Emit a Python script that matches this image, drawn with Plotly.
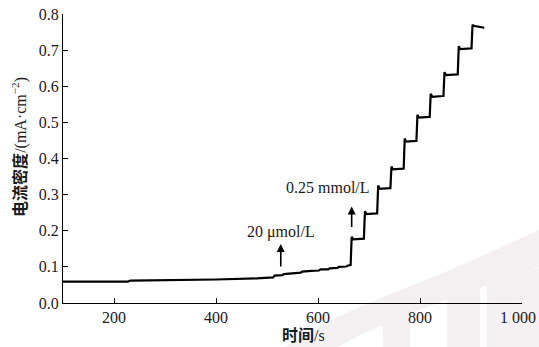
import plotly.graph_objects as go

# time (s) and current density (mA/cm^2)
time_s = [100, 160, 227, 232, 300, 400, 480, 512,
          515, 530, 533, 548, 551, 566, 569, 584, 587, 602, 605, 620, 623, 638, 641, 656, 659, 664,
          666, 669, 689,
          690, 692, 695, 715,
          716, 718, 721, 741,
          742, 744, 747, 767,
          768, 770, 773, 792,
          793, 795, 798, 818,
          819, 821, 824, 845,
          846, 848, 851, 873,
          874, 876, 879, 900,
          901, 903, 906, 926]
current = [0.059, 0.059, 0.059, 0.062, 0.063, 0.065, 0.068, 0.071,
           0.076, 0.077, 0.080, 0.081, 0.083, 0.084, 0.087, 0.087, 0.089, 0.090, 0.093, 0.093, 0.096, 0.097, 0.100, 0.101, 0.104, 0.105,
           0.183, 0.176, 0.178,
           0.178, 0.254, 0.246, 0.248,
           0.248, 0.325, 0.316, 0.318,
           0.318, 0.378, 0.370, 0.372,
           0.372, 0.455, 0.447, 0.449,
           0.449, 0.521, 0.513, 0.515,
           0.515, 0.579, 0.571, 0.573,
           0.573, 0.639, 0.631, 0.633,
           0.633, 0.711, 0.703, 0.705,
           0.705, 0.770, 0.767, 0.762]

x_tickvals = [200, 400, 600, 800, 1000]
x_ticktext = ["200", "400", "600", "800", ""]
last_x_label = "1 000"
y_tickvals = [0.0, 0.1, 0.2, 0.3, 0.4, 0.5, 0.6, 0.7, 0.8]
y_ticktext = ["0.0", "0.1", "0.2", "0.3", "0.4", "0.5", "0.6", "0.7", "0.8"]

serif = "Liberation Serif"
cjk = "Noto Sans CJK SC"
txt_color = "#1a1a1a"

W, H = 539, 347
ML, MR, MT, MB = 63, 17, 14, 44
PW, PH = W - ML - MR, H - MT - MB


def px(x, y):
    return (x - ML) / PW, (H - MB - y) / PH


def poly(points):
    pts = [px(x, y) for x, y in points]
    return "M " + " L ".join(f"{a:.4f},{b:.4f}" for a, b in pts) + " Z"


fig = go.Figure()
fig.add_trace(go.Scatter(x=time_s, y=current, mode="lines",
                         line=dict(color="black", width=2.2), showlegend=False))

axis_common = dict(ticks="inside", ticklen=5, tickwidth=1.2, tickcolor="black",
                   showline=True, linecolor="black", linewidth=1.3, showgrid=False,
                   zeroline=False, tickfont=dict(family=serif, size=16, color=txt_color))

fig.update_layout(
    width=W, height=H,
    margin=dict(l=ML, r=MR, t=MT, b=MB, autoexpand=False),
    paper_bgcolor="white", plot_bgcolor="rgba(0,0,0,0)",
    font=dict(family=serif, size=16, color=txt_color),
    xaxis=dict(range=[100, 1000], tickvals=x_tickvals, ticktext=x_ticktext, **axis_common),
    yaxis=dict(range=[0, 0.8], tickvals=y_tickvals, ticktext=y_ticktext, **axis_common),
)

# faint watermark in the background
wm = "rgba(244,240,241,1)"
wm_shapes = [
    [(285, 347), (330, 320), (383, 297), (450, 270), (500, 248), (539, 230),
     (539, 267), (500, 281), (450, 299), (410, 313), (360, 335), (338, 347)],
    [(383, 305), (410, 300), (410, 347), (383, 347)],
    [(447, 292), (480, 286), (480, 347), (447, 347)],
    [(487, 282), (539, 268), (539, 347), (487, 347)],
]
for pts in wm_shapes:
    fig.add_shape(type="path", path=poly(pts), xref="paper", yref="paper",
                  fillcolor=wm, line=dict(width=0), layer="below")

# axis titles
fig.add_annotation(xref="paper", yref="paper", x=-0.096, y=0.54, textangle=-90,
                   showarrow=False, xanchor="center", yanchor="middle",
                   text=f"<span style='font-family:{cjk};font-weight:bold'>电流密度</span>/(mA·cm<sup>−2</sup>)",
                   font=dict(family=serif, size=16, color=txt_color))
fig.add_annotation(xref="paper", yref="paper", x=0.525, y=px(0, 334)[1],
                   showarrow=False, xanchor="center", yanchor="middle",
                   text=f"<span style='font-family:{cjk};font-weight:bold'>时间</span>/s",
                   font=dict(family=serif, size=16, color=txt_color))
fig.add_annotation(x=1000, xref="x", yref="paper", y=px(0, 317)[1], xshift=-4,
                   showarrow=False, xanchor="center", yanchor="middle",
                   text=last_x_label, font=dict(family=serif, size=16, color=txt_color))

# arrows and labels
fig.add_annotation(x=527, y=0.163, ax=0, ay=24, showarrow=True, arrowhead=2,
                   arrowsize=1, arrowwidth=1.6, arrowcolor="black", text="")
fig.add_annotation(x=528, y=0.197, showarrow=False, text="20 μmol/L",
                   font=dict(family=serif, size=16, color=txt_color))
fig.add_annotation(x=666, y=0.267, ax=0, ay=22, showarrow=True, arrowhead=2,
                   arrowsize=1, arrowwidth=1.6, arrowcolor="black", text="")
fig.add_annotation(x=619, y=0.320, showarrow=False, text="0.25 mmol/L",
                   font=dict(family=serif, size=16, color=txt_color))

fig.write_html("out.html", config={"displayModeBar": False},
               post_script="document.body.style.margin='0';")
